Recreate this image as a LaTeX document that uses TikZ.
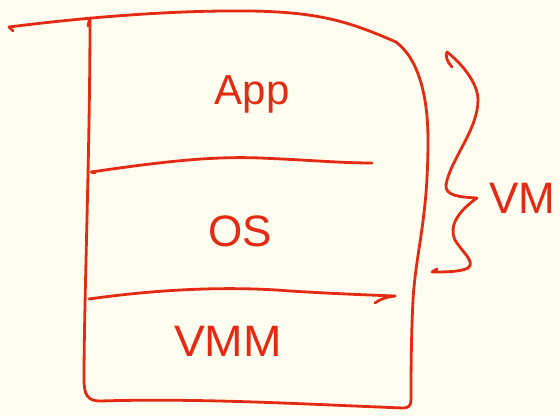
\documentclass[tikz,border=0pt]{standalone}
\usepackage{fontspec}
\setmainfont{Liberation Sans}
\definecolor{ink}{HTML}{E42A12}
\definecolor{paper}{HTML}{FFFDF0}
\tikzset{
  pen/.style={draw=ink, line width=2.8pt, line cap=round, line join=round},
  lbl/.style={text=ink, font=\fontsize{42}{44}\selectfont, inner sep=0pt, anchor=base}
}
\begin{document}
\begin{tikzpicture}[x=1pt,y=-1pt]
\fill[paper] (0,0) rectangle (560,416);
\useasboundingbox (0,0) rectangle (560,416);
% outer box
\draw[pen] (13,31) -- (9,27) .. controls (80,18) and (170,10) .. (250,11)
  .. controls (320,12) and (350,22) .. (396,42)
  .. controls (420,60) and (428,100) .. (428,140)
  .. controls (428,220) and (416,250) .. (413,300)
  .. controls (411,340) and (411,380) .. (411,400)
  .. controls (411,406) and (408,408) .. (403,408)
  .. controls (300,404) and (200,398) .. (100,401)
  .. controls (88,401) and (84,395) .. (84,380)
  .. controls (84,300) and (90,150) .. (90,18);
\draw[pen] (90,18) -- (88,26);
% middle lines
\draw[pen] (95,173) -- (91,172) .. controls (160,162) and (210,156) .. (260,158)
  .. controls (310,160) and (340,163) .. (372,163);
\draw[pen] (89,299) .. controls (160,289) and (230,286) .. (290,291)
  .. controls (340,294) and (370,295) .. (395,296);
\draw[pen] (395,296) .. controls (385,297) and (379,300) .. (375,303);
% brace
\draw[pen] (452,67) .. controls (447,62) and (445,55) .. (447,52)
  .. controls (460,62) and (478,82) .. (478,100)
  .. controls (478,130) and (450,160) .. (446,185)
  .. controls (445,196) and (460,197) .. (477,198)
  .. controls (460,210) and (448,225) .. (455,240)
  .. controls (462,252) and (476,262) .. (468,268)
  .. controls (460,272) and (445,272) .. (432,272)
  -- (437,269);
% labels
\node[lbl] (app) at (252,104) {App};
\node[lbl, font=\fontsize{44}{46}\selectfont] (os) at (240,246) {OS};
\node[lbl, font=\fontsize{44}{46}\selectfont] (vmm) at (228,356) {\scalebox{1.05}[1]{VMM}};
\node[lbl, font=\fontsize{44}{46}\selectfont] (vm) at (522,213) {VM};
\end{tikzpicture}
\end{document}
